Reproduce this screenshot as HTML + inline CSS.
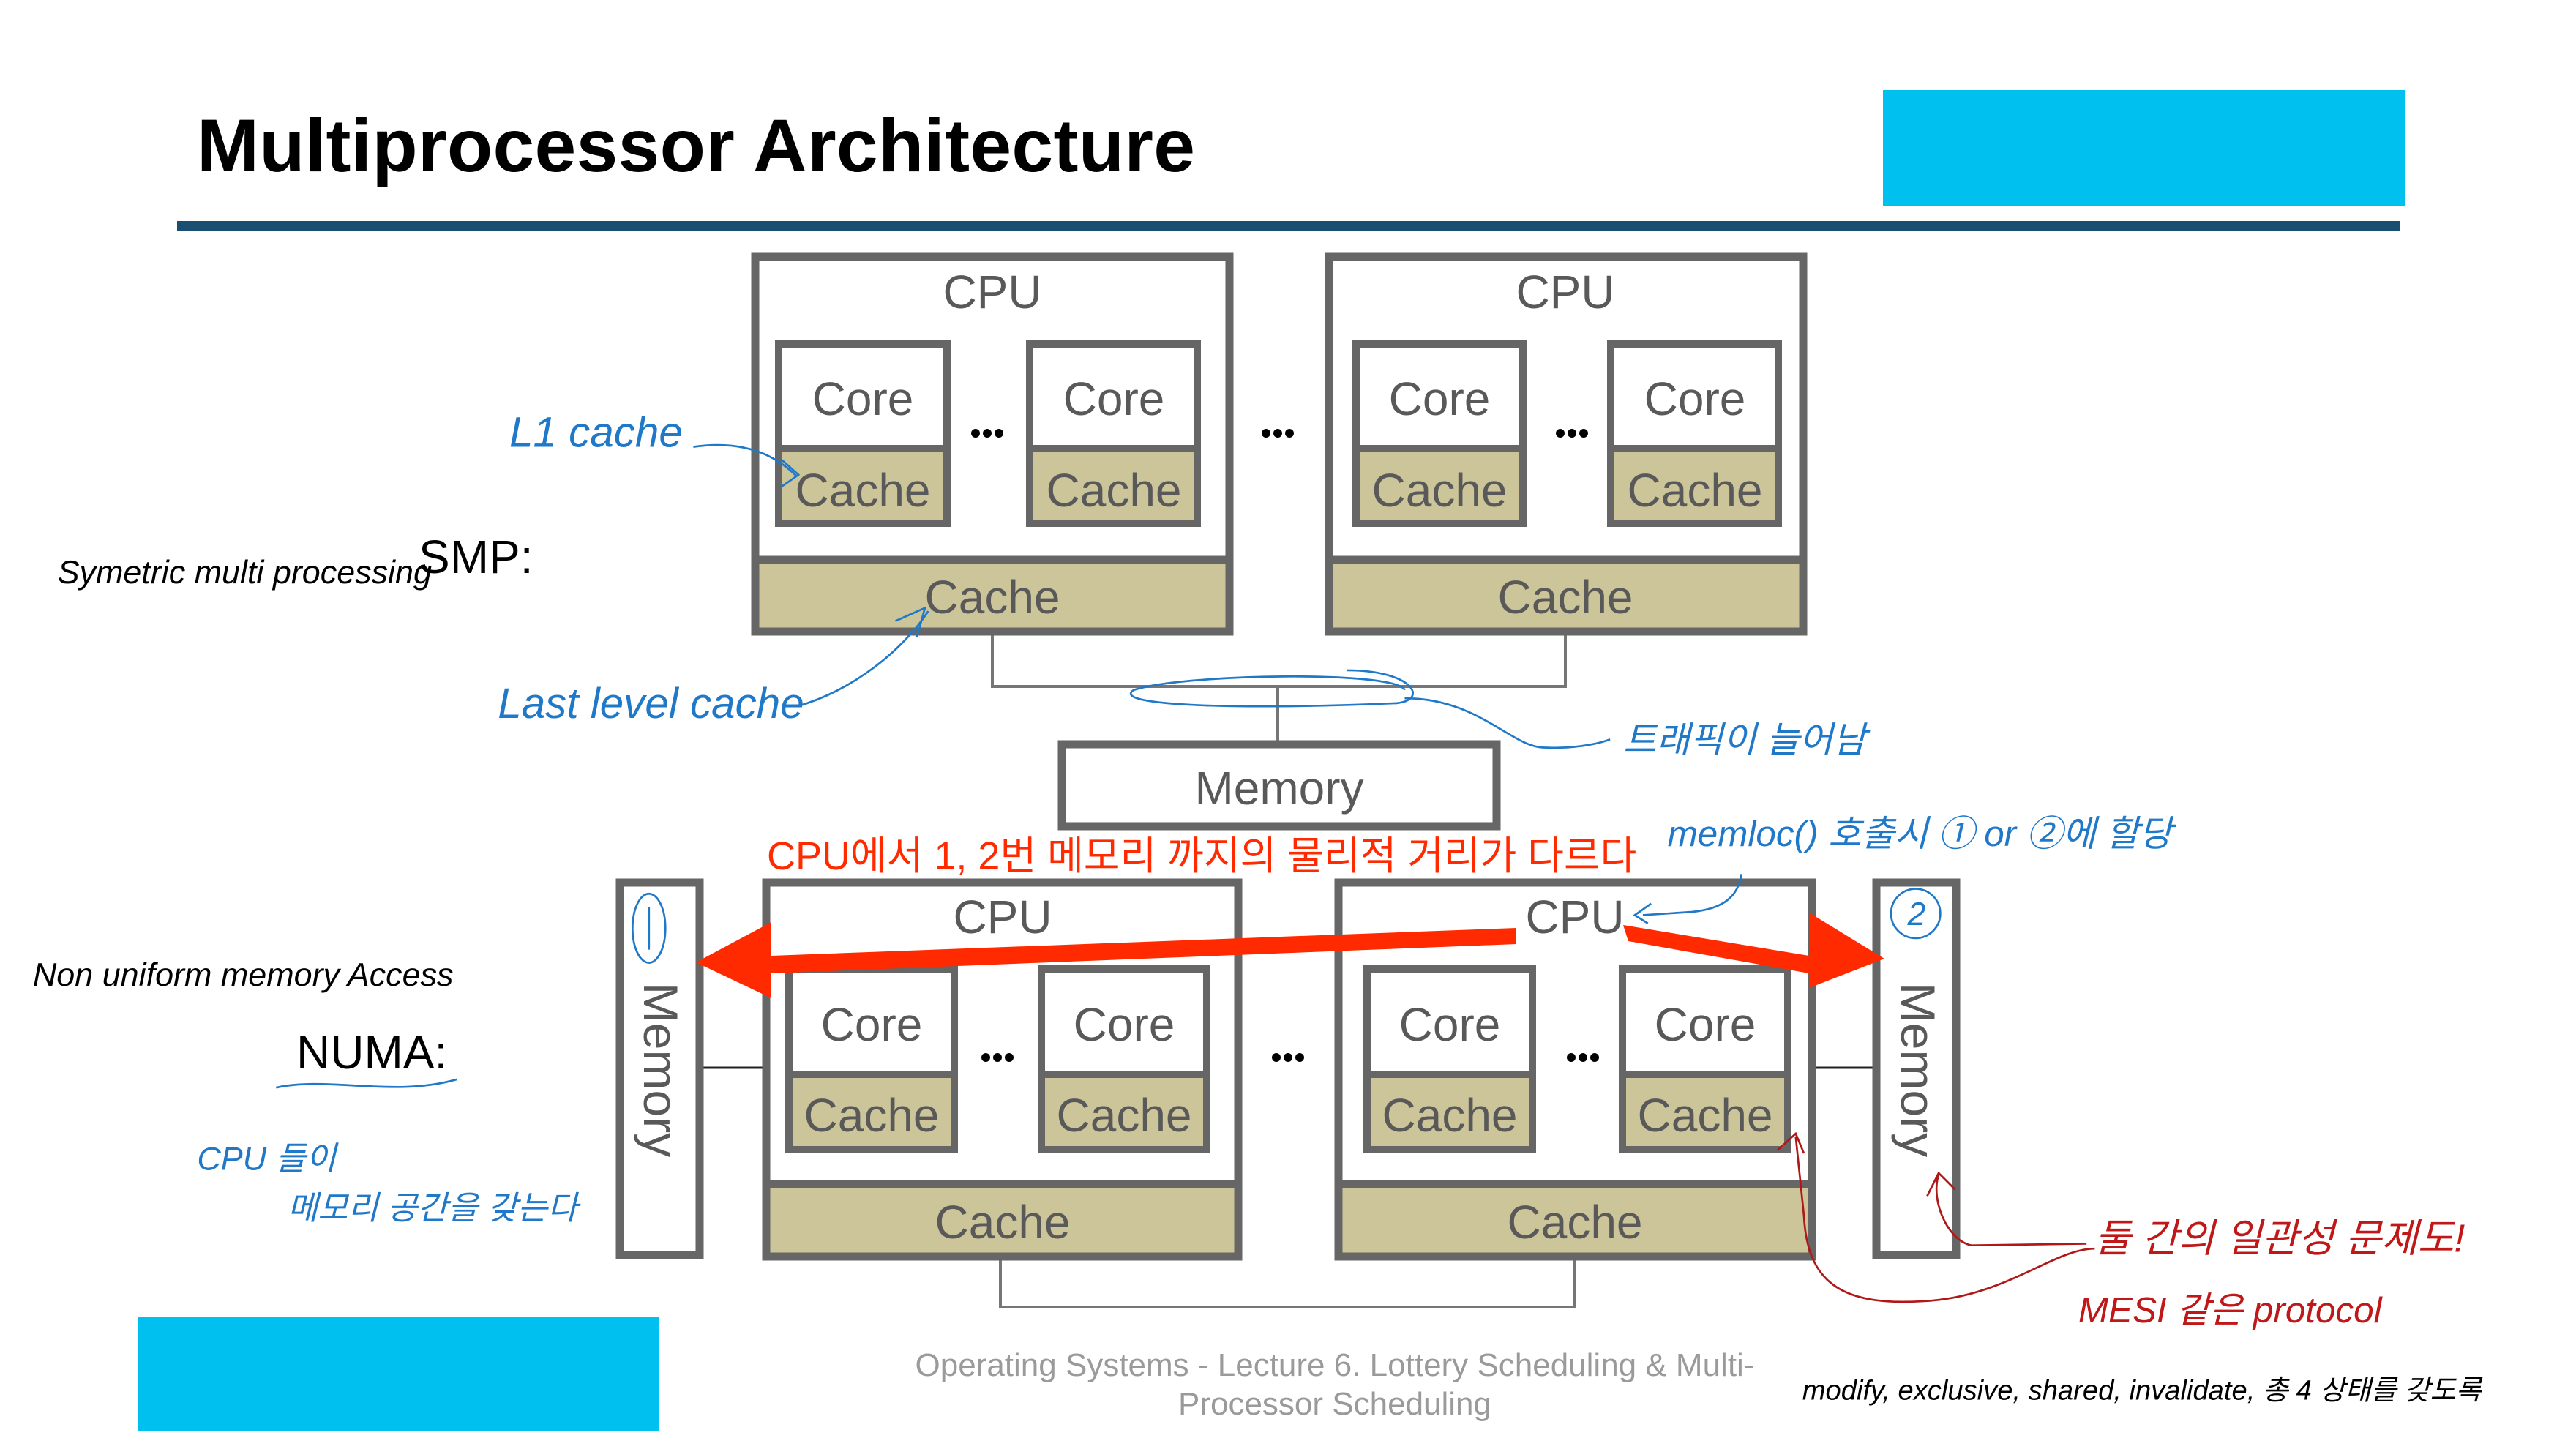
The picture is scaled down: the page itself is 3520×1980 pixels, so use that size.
<!DOCTYPE html>
<html><head><meta charset="utf-8"><style>
html,body{margin:0;padding:0;background:#fff;width:3520px;height:1980px;overflow:hidden}
svg{display:block}
.g{font-family:"Liberation Sans","Noto Sans CJK KR",sans-serif;fill:#595959}
.h{font-family:"Liberation Sans","Noto Sans CJK KR",sans-serif;font-style:italic}
</style></head><body>
<svg width="3520" height="1980" viewBox="0 0 3520 1980" xmlns="http://www.w3.org/2000/svg">
<rect x="2573" y="123" width="714" height="158" fill="#00c0f0"/>
<rect x="189" y="1800" width="711" height="155" fill="#00c0f0"/>
<text x="269" y="234" font-family="Liberation Sans,sans-serif" font-weight="bold" font-size="102" fill="#000" textLength="1364">Multiprocessor Architecture</text>
<rect x="242" y="302" width="3038" height="14" fill="#1b4f72"/>

<g stroke="#767676" stroke-width="4" fill="none">
<polyline points="1356,868 1356,938 2139,938 2139,868"/>
<line x1="1746" y1="938" x2="1746" y2="1012"/>
<polyline points="1367,1722 1367,1786 2151,1786 2151,1722"/>
</g>
<g stroke="#222" stroke-width="3">
<line x1="961" y1="1459" x2="1042" y2="1459"/>
<line x1="2481" y1="1459" x2="2559" y2="1459"/>
</g>

<g stroke="#666" stroke-width="11" fill="#fff">
<rect x="1032" y="351" width="648" height="512"/>
<rect x="1032" y="765" width="648" height="98" fill="#cdc59a"/>
<rect x="1816" y="351" width="648" height="512"/>
<rect x="1816" y="765" width="648" height="98" fill="#cdc59a"/>
<rect x="1047" y="1206" width="645" height="511"/>
<rect x="1047" y="1618" width="645" height="99" fill="#cdc59a"/>
<rect x="1829" y="1206" width="647" height="511"/>
<rect x="1829" y="1618" width="647" height="99" fill="#cdc59a"/>
<rect x="1451" y="1017" width="594" height="112"/>
<rect x="847" y="1206" width="109" height="509"/>
<rect x="2564" y="1206" width="109" height="509"/>
</g>
<g stroke="#666" stroke-width="10">
<rect x="1064" y="470" width="230" height="143" fill="#fff"/><rect x="1064" y="613" width="230" height="102" fill="#cdc59a"/>
<rect x="1407" y="470" width="229" height="143" fill="#fff"/><rect x="1407" y="613" width="229" height="102" fill="#cdc59a"/>
<rect x="1853" y="470" width="228" height="143" fill="#fff"/><rect x="1853" y="613" width="228" height="102" fill="#cdc59a"/>
<rect x="2201" y="470" width="229" height="143" fill="#fff"/><rect x="2201" y="613" width="229" height="102" fill="#cdc59a"/>
<rect x="1078" y="1324" width="226" height="144" fill="#fff"/><rect x="1078" y="1468" width="226" height="103" fill="#cdc59a"/>
<rect x="1423" y="1324" width="226" height="144" fill="#fff"/><rect x="1423" y="1468" width="226" height="103" fill="#cdc59a"/>
<rect x="1868" y="1324" width="226" height="144" fill="#fff"/><rect x="1868" y="1468" width="226" height="103" fill="#cdc59a"/>
<rect x="2217" y="1324" width="226" height="144" fill="#fff"/><rect x="2217" y="1468" width="226" height="103" fill="#cdc59a"/>
</g>

<g class="g" font-size="64" text-anchor="middle">
<text x="1356" y="421">CPU</text><text x="2139" y="421">CPU</text>
<text x="1179" y="567">Core</text><text x="1522" y="567">Core</text><text x="1967" y="567">Core</text><text x="2316" y="567">Core</text>
<text x="1179" y="692">Cache</text><text x="1522" y="692">Cache</text><text x="1967" y="692">Cache</text><text x="2316" y="692">Cache</text>
<text x="1356" y="838">Cache</text><text x="2139" y="838">Cache</text>
<text x="1748" y="1099">Memory</text>
<text x="1370" y="1275">CPU</text><text x="2152" y="1275">CPU</text>
<text x="1191" y="1422">Core</text><text x="1536" y="1422">Core</text><text x="1981" y="1422">Core</text><text x="2330" y="1422">Core</text>
<text x="1191" y="1546">Cache</text><text x="1536" y="1546">Cache</text><text x="1981" y="1546">Cache</text><text x="2330" y="1546">Cache</text>
<text x="1370" y="1692">Cache</text><text x="2152" y="1692">Cache</text>
<text transform="translate(880,1462) rotate(90)" font-size="66">Memory</text>
<text transform="translate(2598,1462) rotate(90)" font-size="66">Memory</text>
</g>
<g fill="#000">
<circle cx="1333" cy="592" r="6"/><circle cx="1349" cy="592" r="6"/><circle cx="1365" cy="592" r="6"/>
<circle cx="1730" cy="592" r="6"/><circle cx="1746" cy="592" r="6"/><circle cx="1762" cy="592" r="6"/>
<circle cx="2132" cy="592" r="6"/><circle cx="2148" cy="592" r="6"/><circle cx="2164" cy="592" r="6"/>
<circle cx="1347" cy="1445" r="6"/><circle cx="1363" cy="1445" r="6"/><circle cx="1379" cy="1445" r="6"/>
<circle cx="1744" cy="1445" r="6"/><circle cx="1760" cy="1445" r="6"/><circle cx="1776" cy="1445" r="6"/>
<circle cx="2147" cy="1445" r="6"/><circle cx="2163" cy="1445" r="6"/><circle cx="2179" cy="1445" r="6"/>
</g>

<text x="1048" y="1188" font-family="Liberation Sans,'Noto Sans CJK KR',sans-serif" font-size="54" fill="#ff2a00">CPU에서 1, 2번 메모리 까지의 물리적 거리가 다르다</text>

<g fill="#ff2a00">
<polygon points="2072,1268 2072,1290 1054,1330 1054,1364 951,1315 1054,1260 1054,1306"/>
<polygon points="2218,1264 2225,1286 2472,1330 2472,1350 2575,1310 2472,1247 2472,1306"/>
</g>

<g class="g" font-size="44" text-anchor="middle" style="fill:#9a9a9a">
<text x="1824" y="1880">Operating Systems - Lecture 6. Lottery Scheduling &amp; Multi-</text>
<text x="1824" y="1933">Processor Scheduling</text>
</g>

<g font-family="Liberation Sans,sans-serif" font-size="64" fill="#000">
<text x="572" y="783">SMP:</text>
<text x="405" y="1460">NUMA:</text>
</g>

<g transform="scale(2.245)">
<g fill="none" stroke="#1f78c8" stroke-width="1.2">
<path d="M422,272 C450,268 470,275 485,290"/><path d="M476,280 L486,289 L476,296"/>
<path d="M485,430 C520,420 550,395 565,372"/><path d="M545,378 L563,370 L558,388"/>
<path d="M855,420 C850,408 720,410 690,420 C675,430 760,432 850,428 C870,426 860,408 820,408"/>
<path d="M855,425 C900,425 920,455 940,455 C960,456 975,452 980,450"/>
<path d="M1060,532 C1058,545 1050,553 1030,555 L1000,557"/><path d="M1005,550 L995,557 L1003,562"/>
<ellipse cx="395" cy="565" rx="10" ry="21"/>
<path d="M395,552 L395,578"/>
<circle cx="1166" cy="556" r="15"/>
<path d="M168,662 C200,655 240,668 278,657"/>
</g>
<g fill="none" stroke="#b01818" stroke-width="1.2">
<path d="M1093,692 L1098,740 C1100,780 1120,795 1170,792 C1220,790 1250,760 1275,760"/>
<path d="M1082,700 L1093,690 L1098,702"/>
<path d="M1180,715 C1175,730 1185,755 1200,758 L1270,757"/>
<path d="M1173,728 L1180,714 L1190,724"/>
</g>
<g class="h" fill="#1f78c8" font-size="26">
<text x="310" y="272">L1 cache</text>
<text x="303" y="437">Last level cache</text>
<text x="988" y="458" font-size="22">트래픽이 늘어남</text>
<text x="1015" y="515" font-size="22">memloc() 호출시 ① or ②에 할당</text>
<text x="120" y="712" font-size="20">CPU 들이</text>
<text x="175" y="742" font-size="20">메모리 공간을 갖는다</text>
<text x="1161" y="563" font-size="20">2</text>
</g>
<g class="h" fill="#000" font-size="20">
<text x="35" y="355">Symetric multi processing</text>
<text x="20" y="600">Non uniform memory Access</text>
<text x="1097" y="852" font-size="17">modify, exclusive, shared, invalidate, 총 4 상태를 갖도록</text>
</g>
<g class="h" fill="#c01818" font-size="24">
<text x="1275" y="762">둘 간의 일관성 문제도!</text>
<text x="1265" y="805" font-size="22">MESI 같은 protocol</text>
</g>
</g>
</svg>
</body></html>
